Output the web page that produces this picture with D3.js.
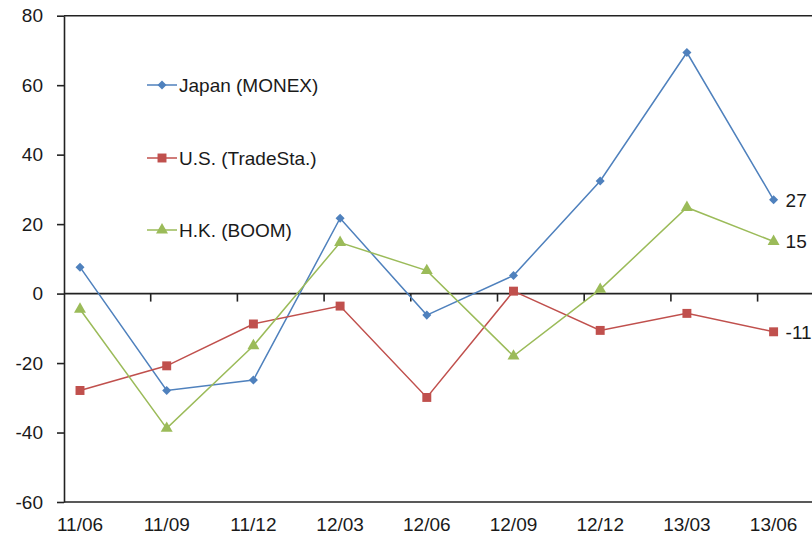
<!DOCTYPE html>
<html>
<head>
<meta charset="utf-8">
<script src="https://cdn.jsdelivr.net/npm/d3@7/dist/d3.min.js"></script>
<style>
  html, body { margin: 0; padding: 0; background: #fff; }
  svg text { font-family: "Liberation Sans", Arial, sans-serif; font-size: 19px; fill: #1a1a1a; }
</style>
</head>
<body>
<svg id="chart" width="812" height="544"></svg>
<script>
// Quarterly series (% change)
const categories = ["11/06", "11/09", "11/12", "12/03", "12/06", "12/09", "12/12", "13/03", "13/06"];
const japan = [7.6, -27.9, -24.9, 21.7, -6.2, 5.2, 32.4, 69.4, 27];
const us    = [-27.9, -20.8, -8.75, -3.6, -29.9, 0.7, -10.6, -5.7, -11];
const hk    = [-4.5, -38.8, -15, 14.7, 6.6, -18, 1.2, 24.8, 15];
const yTicks = [-60, -40, -20, 0, 20, 40, 60, 80];

const series = [
  { name: "Japan (MONEX)",   values: japan, color: "#4F81BD", marker: d3.symbolDiamond2, size: 52 },
  { name: "U.S. (TradeSta.)", values: us,   color: "#C0504D", marker: d3.symbolSquare,   size: 80 },
  { name: "H.K. (BOOM)",     values: hk,    color: "#9BBB59", marker: d3.symbolTriangle, size: 62 }
];

// plain hyphen for negatives
const fmt = v => String(Math.round(v));

const svg = d3.select("#chart");
const plotLeft = 64, plotTop = 15.7, plotBottom = 502, step = 86.7;
const plotRight = plotLeft + step * categories.length;

const x = d3.scaleBand().domain(categories).range([plotLeft, plotRight]).paddingInner(0).paddingOuter(0);
const px = c => x(c) + 16;
const y = d3.scaleLinear().domain([-60, 80]).range([plotBottom, plotTop]);

// plot frame (top and bottom edges)
svg.append("line").attr("x1", plotLeft).attr("x2", plotRight).attr("y1", y(80)).attr("y2", y(80))
  .attr("stroke", "#222").attr("stroke-width", 1.6);
svg.append("line").attr("x1", plotLeft).attr("x2", plotRight).attr("y1", y(-60)).attr("y2", y(-60))
  .attr("stroke", "#222").attr("stroke-width", 1.6);

// value axis
const yAxis = svg.append("g").attr("transform", `translate(${plotLeft},0)`)
  .call(d3.axisLeft(y).tickValues(yTicks).tickFormat(fmt).tickSize(7).tickPadding(14).tickSizeOuter(0));
yAxis.select(".domain").attr("stroke", "#222").attr("stroke-width", 1.6);
yAxis.selectAll(".tick line").attr("stroke", "#222").attr("stroke-width", 1.6);
yAxis.selectAll(".tick text").attr("font-family", "Liberation Sans, Arial, sans-serif")
  .attr("font-size", 19).attr("fill", "#1a1a1a");

// category axis at zero
svg.append("line").attr("x1", plotLeft).attr("x2", plotRight).attr("y1", y(0)).attr("y2", y(0))
  .attr("stroke", "#222").attr("stroke-width", 1.6);
svg.append("g").selectAll("line").data(categories.slice(1)).join("line")
  .attr("x1", d => x(d)).attr("x2", d => x(d))
  .attr("y1", y(0)).attr("y2", y(0) + 8)
  .attr("stroke", "#222").attr("stroke-width", 1.6);

// category labels
svg.append("g").selectAll("text").data(categories).join("text")
  .attr("x", d => px(d)).attr("y", 531)
  .attr("text-anchor", "middle")
  .text(d => d);

// series lines and markers
const line = d3.line().x((v, i) => px(categories[i])).y(v => y(v));
series.forEach(s => {
  svg.append("path").datum(s.values)
    .attr("d", line).attr("fill", "none")
    .attr("stroke", s.color).attr("stroke-width", 1.5);
  svg.append("g").selectAll("path").data(s.values).join("path")
    .attr("transform", (v, i) => `translate(${px(categories[i])},${y(v)})`)
    .attr("d", d3.symbol().type(s.marker).size(s.size))
    .attr("fill", s.color);
});

// end-value labels
series.forEach(s => {
  const last = s.values[s.values.length - 1];
  svg.append("text")
    .attr("x", px(categories[categories.length - 1]) + 12)
    .attr("y", y(last)).attr("dy", "0.36em")
    .text(fmt(last));
});

// legend
const legendRows = [85, 158, 230];
series.forEach((s, i) => {
  const g = svg.append("g").attr("transform", `translate(147,${legendRows[i]})`);
  g.append("line").attr("x1", 0).attr("x2", 30).attr("y1", 0).attr("y2", 0)
    .attr("stroke", s.color).attr("stroke-width", 1.5);
  g.append("path").attr("transform", "translate(15,0)")
    .attr("d", d3.symbol().type(s.marker).size(s.size)).attr("fill", s.color);
  g.append("text").attr("x", 32).attr("y", 0).attr("dy", "0.36em").text(s.name);
});
</script>
</body>
</html>
